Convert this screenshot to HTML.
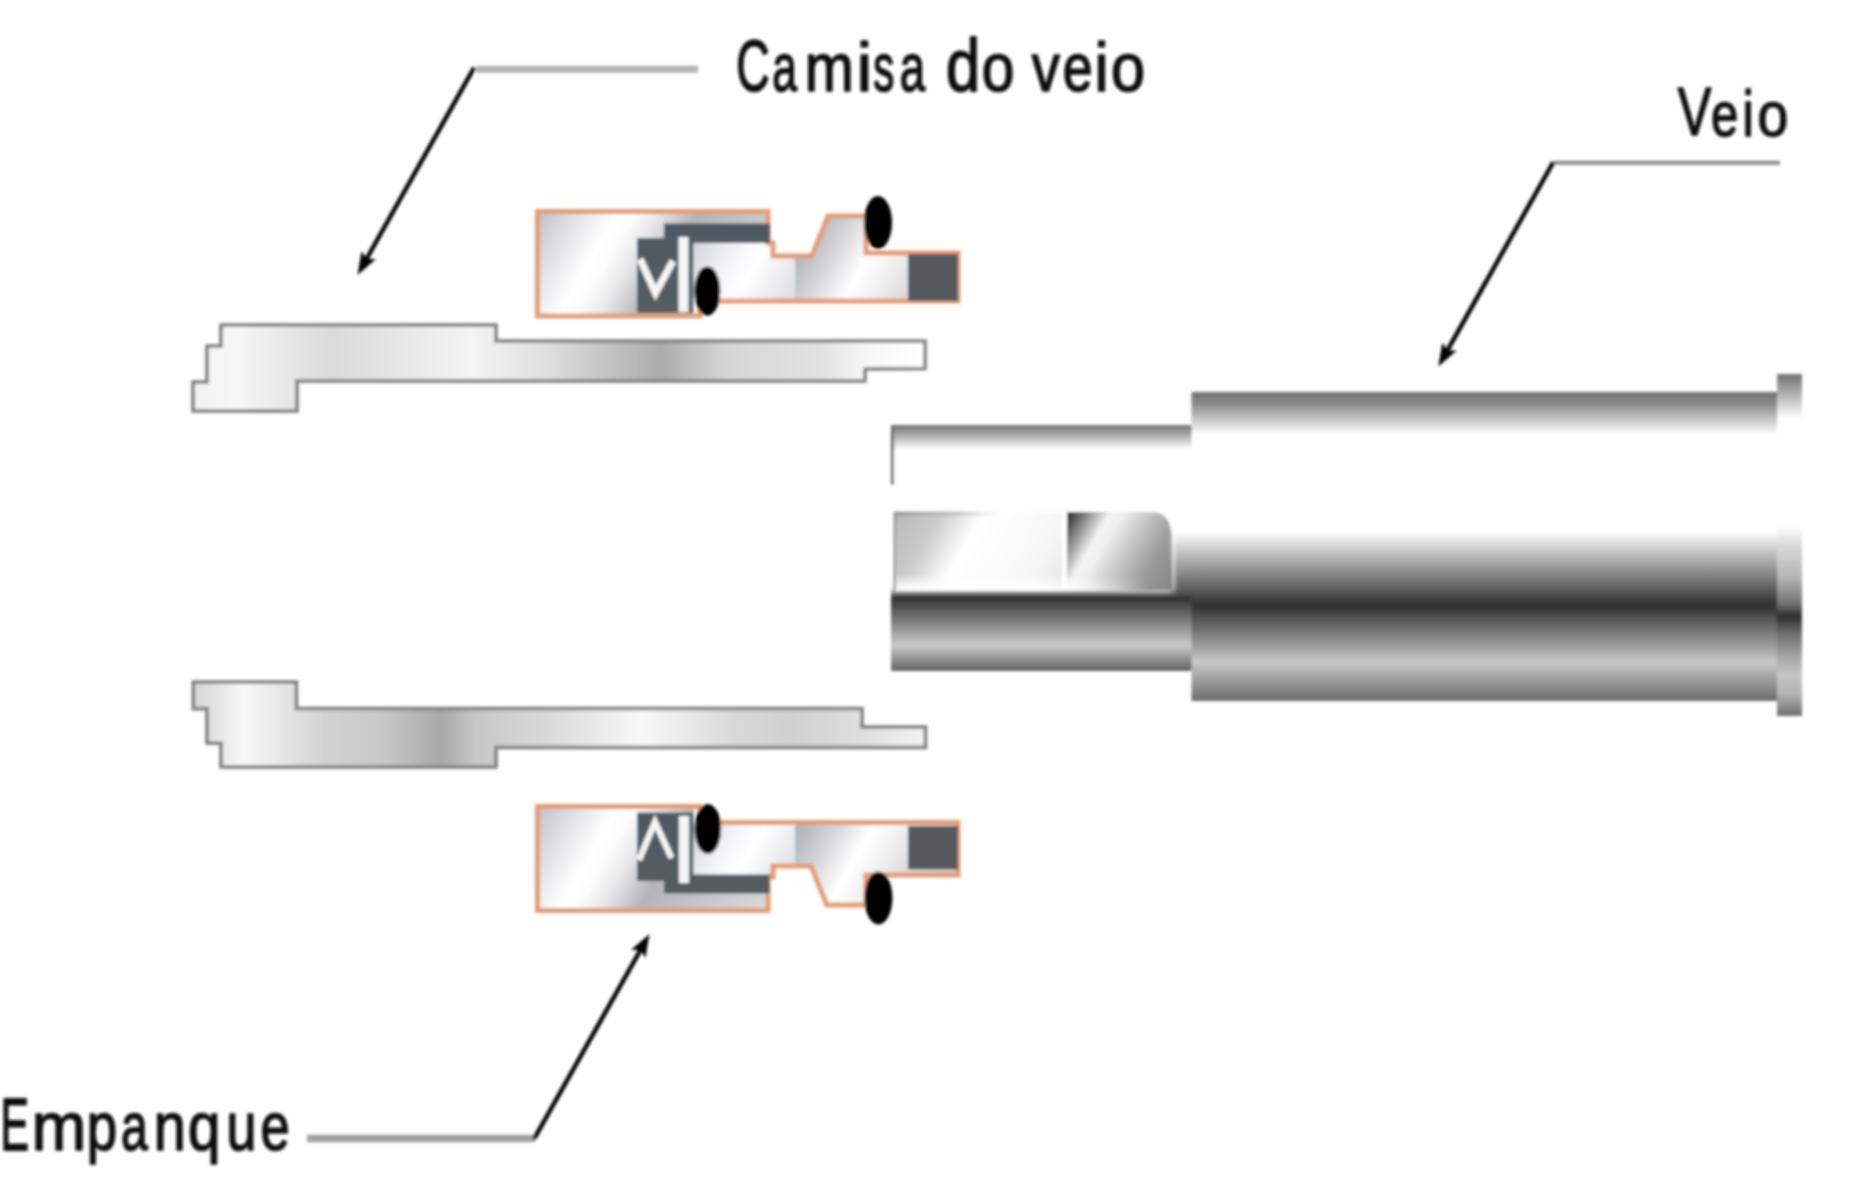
<!DOCTYPE html>
<html><head><meta charset="utf-8">
<style>
html,body{margin:0;padding:0;background:#fff;}
body{width:1855px;height:1200px;overflow:hidden;}
svg{display:block;}
text{font-family:"Liberation Sans",sans-serif;fill:#111;}
</style></head><body>
<svg width="1855" height="1200" viewBox="0 0 1855 1200">
<defs>
<filter id="bl" x="-5%" y="-5%" width="110%" height="110%"><feGaussianBlur stdDeviation="1.8"/></filter>
<linearGradient id="slvT" x1="193" y1="0" x2="924" y2="0" gradientUnits="userSpaceOnUse">
 <stop offset="0" stop-color="#f2f2f2"/><stop offset="0.06" stop-color="#f6f6f6"/><stop offset="0.19" stop-color="#dadada"/><stop offset="0.38" stop-color="#f4f4f4"/>
 <stop offset="0.48" stop-color="#e0e0e0"/><stop offset="0.64" stop-color="#ababab"/><stop offset="0.73" stop-color="#d6d6d6"/>
 <stop offset="0.86" stop-color="#e2e2e2"/><stop offset="0.92" stop-color="#f6f6f6"/><stop offset="1" stop-color="#ffffff"/>
</linearGradient>
<linearGradient id="slvB" x1="193" y1="0" x2="924" y2="0" gradientUnits="userSpaceOnUse">
 <stop offset="0.01" stop-color="#d8d8d8"/><stop offset="0.07" stop-color="#f8f8f8"/><stop offset="0.18" stop-color="#d2d2d2"/>
 <stop offset="0.26" stop-color="#c8c8c8"/><stop offset="0.34" stop-color="#a8a8a8"/><stop offset="0.385" stop-color="#c6c6c6"/>
 <stop offset="0.49" stop-color="#dadada"/><stop offset="0.615" stop-color="#f8f8f8"/><stop offset="0.74" stop-color="#d8d8d8"/>
 <stop offset="0.82" stop-color="#d0d0d0"/><stop offset="0.935" stop-color="#e2e2e2"/><stop offset="0.99" stop-color="#f0f0f0"/>
</linearGradient>
<linearGradient id="sLT" x1="537" y1="211" x2="762.2" y2="341.0" gradientUnits="userSpaceOnUse"><stop offset="0.000" stop-color="#bcbcc4"/><stop offset="0.115" stop-color="#dcdce0"/><stop offset="0.269" stop-color="#ffffff"/><stop offset="0.331" stop-color="#fcfcfc"/><stop offset="0.415" stop-color="#e6e6e8"/><stop offset="0.538" stop-color="#b4b4b8"/><stop offset="1.000" stop-color="#dcdcdc"/></linearGradient>
<linearGradient id="sRT" x1="694" y1="243" x2="867.2" y2="343.0" gradientUnits="userSpaceOnUse"><stop offset="0.000" stop-color="#d4d4dc"/><stop offset="0.230" stop-color="#f8f8fc"/><stop offset="0.320" stop-color="#ffffff"/><stop offset="0.500" stop-color="#e6e6ea"/><stop offset="0.650" stop-color="#d8d8dc"/><stop offset="1.000" stop-color="#d0d0d0"/></linearGradient>
<linearGradient id="sR2T" x1="795" y1="243" x2="968.2" y2="343.0" gradientUnits="userSpaceOnUse"><stop offset="0.000" stop-color="#a8b0b4"/><stop offset="0.075" stop-color="#b8bcc0"/><stop offset="0.200" stop-color="#d8d8dc"/><stop offset="0.350" stop-color="#ffffff"/><stop offset="0.475" stop-color="#f0f0f0"/><stop offset="0.600" stop-color="#dcdcdc"/><stop offset="0.750" stop-color="#d0d0d0"/><stop offset="1.000" stop-color="#cccccc"/></linearGradient>
<linearGradient id="sLB" x1="537" y1="806" x2="762.2" y2="936.0" gradientUnits="userSpaceOnUse"><stop offset="0.000" stop-color="#bcbcc4"/><stop offset="0.115" stop-color="#dcdce0"/><stop offset="0.269" stop-color="#ffffff"/><stop offset="0.331" stop-color="#fcfcfc"/><stop offset="0.415" stop-color="#e6e6e8"/><stop offset="0.538" stop-color="#b4b4b8"/><stop offset="1.000" stop-color="#dcdcdc"/></linearGradient>
<linearGradient id="sRB" x1="694" y1="822" x2="867.2" y2="922.0" gradientUnits="userSpaceOnUse"><stop offset="0.000" stop-color="#d4d4dc"/><stop offset="0.230" stop-color="#f8f8fc"/><stop offset="0.320" stop-color="#ffffff"/><stop offset="0.500" stop-color="#e6e6ea"/><stop offset="0.650" stop-color="#d8d8dc"/><stop offset="1.000" stop-color="#d0d0d0"/></linearGradient>
<linearGradient id="sR2B" x1="795" y1="822" x2="968.2" y2="922.0" gradientUnits="userSpaceOnUse"><stop offset="0.000" stop-color="#a8b0b4"/><stop offset="0.075" stop-color="#b8bcc0"/><stop offset="0.200" stop-color="#d8d8dc"/><stop offset="0.350" stop-color="#ffffff"/><stop offset="0.475" stop-color="#f0f0f0"/><stop offset="0.600" stop-color="#dcdcdc"/><stop offset="0.750" stop-color="#d0d0d0"/><stop offset="1.000" stop-color="#cccccc"/></linearGradient>
<linearGradient id="fadeH" x1="1168" y1="0" x2="1178" y2="0" gradientUnits="userSpaceOnUse"><stop offset="0" stop-color="#fff" stop-opacity="0"/><stop offset="1" stop-color="#fff" stop-opacity="1"/></linearGradient>
<mask id="mfade" maskUnits="userSpaceOnUse" x="1160" y="500" width="40" height="110"><rect x="1160" y="500" width="40" height="110" fill="url(#fadeH)"/></mask>
<linearGradient id="kfade" x1="0" y1="574" x2="0" y2="591" gradientUnits="userSpaceOnUse"><stop offset="0" stop-color="#fff" stop-opacity="0"/><stop offset="0.75" stop-color="#fff" stop-opacity="0.85"/><stop offset="1" stop-color="#fff" stop-opacity="0.9"/></linearGradient>
<linearGradient id="ktop" x1="895" y1="0" x2="1005" y2="0" gradientUnits="userSpaceOnUse"><stop offset="0" stop-color="#888" stop-opacity="0.5"/><stop offset="0.6" stop-color="#999" stop-opacity="0.3"/><stop offset="1" stop-color="#aaa" stop-opacity="0"/></linearGradient>
<linearGradient id="kfh" x1="893" y1="0" x2="1150" y2="0" gradientUnits="userSpaceOnUse"><stop offset="0" stop-color="#fff"/><stop offset="0.6" stop-color="#fff"/><stop offset="1" stop-color="#000"/></linearGradient>
<mask id="mk2" maskUnits="userSpaceOnUse" x="890" y="570" width="270" height="25"><rect x="890" y="570" width="270" height="25" fill="url(#kfh)"/></mask>
<linearGradient id="dk" x1="0" y1="0" x2="0" y2="1"><stop offset="0" stop-color="#4d5963"/><stop offset="1" stop-color="#565b5f"/></linearGradient>
<linearGradient id="shBig" x1="0" y1="392" x2="0" y2="701" gradientUnits="userSpaceOnUse">
 <stop offset="0" stop-color="#707070"/><stop offset="0.04" stop-color="#8c8c8c"/><stop offset="0.138" stop-color="#ffffff"/><stop offset="0.45" stop-color="#ffffff"/>
 <stop offset="0.69" stop-color="#303030"/><stop offset="0.875" stop-color="#c8c8c8"/><stop offset="1" stop-color="#6a6a6a"/>
</linearGradient>
<linearGradient id="shSm" x1="0" y1="425" x2="0" y2="671" gradientUnits="userSpaceOnUse">
 <stop offset="0" stop-color="#707070"/><stop offset="0.10" stop-color="#ffffff"/><stop offset="0.66" stop-color="#ffffff"/>
 <stop offset="0.70" stop-color="#303030"/><stop offset="0.895" stop-color="#cacaca"/><stop offset="1" stop-color="#606060"/>
</linearGradient>
<linearGradient id="flg" x1="0" y1="374" x2="0" y2="716" gradientUnits="userSpaceOnUse">
 <stop offset="0" stop-color="#707070"/><stop offset="0.13" stop-color="#ffffff"/><stop offset="0.443" stop-color="#ffffff"/>
 <stop offset="0.5" stop-color="#dadada"/><stop offset="0.594" stop-color="#b4b4b4"/><stop offset="0.67" stop-color="#747474"/>
 <stop offset="0.708" stop-color="#2e2e2e"/><stop offset="0.756" stop-color="#6a6a6a"/><stop offset="0.822" stop-color="#a2a2a2"/>
 <stop offset="0.88" stop-color="#c6c6c6"/><stop offset="0.936" stop-color="#b2b2b2"/><stop offset="1" stop-color="#6e6e6e"/>
</linearGradient>
<linearGradient id="key1" x1="895" y1="512" x2="1054.3" y2="604.0" gradientUnits="userSpaceOnUse"><stop offset="0.000" stop-color="#a6a6a6"/><stop offset="0.043" stop-color="#bcbcbc"/><stop offset="0.217" stop-color="#cacaca"/><stop offset="0.424" stop-color="#ffffff"/><stop offset="0.815" stop-color="#f6f6f6"/><stop offset="1.000" stop-color="#e6e6e6"/></linearGradient>
<linearGradient id="key2" x1="1067" y1="512" x2="1177.8" y2="576.0" gradientUnits="userSpaceOnUse"><stop offset="0.000" stop-color="#1c1c1c"/><stop offset="0.109" stop-color="#707070"/><stop offset="0.297" stop-color="#f4f4f4"/><stop offset="0.375" stop-color="#f0f0f0"/><stop offset="0.562" stop-color="#c6c6c6"/><stop offset="0.781" stop-color="#9a9a9a"/><stop offset="1.000" stop-color="#868686"/></linearGradient>
<marker id="ah" viewBox="0 0 10 10" refX="9" refY="5" markerWidth="7" markerHeight="7" orient="auto-start-reverse"><path d="M0,0 L10,5 L0,10 L2.5,5 z" fill="#000"/></marker>
</defs>
<rect width="1855" height="1200" fill="#fff"/>
<g filter="url(#bl)">
<!-- sleeves -->
<polygon points="221.0,325.0 496.0,325.0 496.0,341.0 925.0,341.0 925.0,368.5 865.0,369.0 865.0,381.0 297.0,381.0 297.0,411.0 193.0,411.0 193.0,382.0 207.0,382.0 207.0,346.0 221.0,346.0" fill="url(#slvT)" stroke="#7e7e7e" stroke-width="3.6"/>
<polygon points="193.4,682.0 296.4,682.0 296.4,708.5 862.0,708.5 862.0,727.0 925.5,727.0 925.5,747.5 496.0,747.5 496.0,767.0 221.0,767.0 221.0,743.3 207.0,743.3 207.0,708.8 193.4,708.8" fill="url(#slvB)" stroke="#7e7e7e" stroke-width="3.6"/>
<!-- shaft -->
<rect x="891" y="425" width="301" height="246" fill="url(#shSm)"/>
<rect x="891" y="425" width="3" height="60" fill="#666"/>
<rect x="1191.5" y="392" width="586" height="309" fill="url(#shBig)"/>
<rect x="1777" y="374" width="25" height="342" fill="url(#flg)"/>
<path d="M895,512 H1062 V590 H895 Z" fill="url(#key1)"/>
<path d="M1067,512 H1152 Q1170,512 1172,535 V590 H1067 Z" fill="url(#key2)"/>
<rect x="893" y="574" width="260" height="17" fill="url(#kfade)" mask="url(#mk2)"/>
<rect x="895" y="511" width="110" height="5" fill="url(#ktop)"/>
<rect x="893" y="511" width="3" height="80" fill="#8a8a8a" opacity="0.7"/>
<rect x="1166" y="512" width="26" height="84" fill="url(#shBig)" mask="url(#mfade)"/>
<!-- seals -->
<polygon points="537.5,211.5 768.0,211.5 768.0,243.0 694.0,243.0 694.0,316.0 537.5,316.0" fill="url(#sLT)"/>
<polygon points="694.0,243.0 773.0,243.0 773.0,256.0 795.0,256.0 795.0,301.0 694.0,301.0" fill="url(#sRT)"/>
<polygon points="795.0,256.0 812.0,256.0 828.0,216.0 866.0,216.0 866.0,253.0 958.0,253.0 958.0,301.0 795.0,301.0" fill="url(#sR2T)"/>
<polygon points="537.5,211.5 768.0,211.5 768.0,243.0 773.0,243.0 773.0,256.0 812.0,256.0 828.0,216.0 866.0,216.0 866.0,253.0 958.0,253.0 958.0,301.0 700.0,301.0 700.0,316.0 537.5,316.0" fill="none" stroke="#e39c74" stroke-width="5" stroke-linejoin="miter"/>
<polygon points="637.0,238.0 664.0,238.0 664.0,223.5 770.0,223.5 770.0,243.0 693.0,243.0 693.0,313.0 637.0,313.0" fill="url(#dk)"/>
<polygon points="908.0,254.0 958.0,254.0 958.0,301.0 908.0,301.0" fill="#54595d"/>
<polyline points="640.0,259.0 655.5,293.0 673.0,261.0" fill="none" stroke="#f6f6f6" stroke-width="7" stroke-linejoin="miter"/>
<polyline points="683.5,237.0 683.5,312.0" fill="none" stroke="#f6f6f6" stroke-width="10"/>
<ellipse cx="707.3" cy="291" rx="13" ry="24.5" fill="#000"/>
<ellipse cx="878" cy="222.5" rx="14" ry="26.5" fill="#000"/>

<polygon points="537.5,806.5 694.0,806.5 694.0,877.0 768.0,877.0 768.0,910.5 537.5,910.5" fill="url(#sLB)"/>
<polygon points="694.0,822.5 795.0,822.5 795.0,866.0 773.0,866.0 773.0,877.0 694.0,877.0" fill="url(#sRB)"/>
<polygon points="795.0,822.5 958.0,822.5 958.0,875.0 866.0,875.0 866.0,905.0 827.0,905.0 811.0,866.0 795.0,866.0" fill="url(#sR2B)"/>
<polygon points="537.5,806.5 700.0,806.5 700.0,822.5 958.0,822.5 958.0,875.0 866.0,875.0 866.0,905.0 827.0,905.0 811.0,866.0 773.0,866.0 773.0,877.0 768.0,877.0 768.0,910.5 537.5,910.5" fill="none" stroke="#e39c74" stroke-width="5" stroke-linejoin="miter"/>
<polygon points="637.0,812.5 693.0,812.5 693.0,874.5 769.5,874.5 769.5,893.5 664.0,893.5 664.0,881.0 637.0,881.0" fill="url(#dk)"/>
<polygon points="908.0,826.0 958.0,826.0 958.0,869.5 908.0,869.5" fill="#54595d"/>
<polyline points="639.0,860.0 655.0,822.0 671.5,858.0" fill="none" stroke="#f6f6f6" stroke-width="6" stroke-linejoin="miter"/>
<polyline points="684.0,816.0 684.0,883.0" fill="none" stroke="#f6f6f6" stroke-width="10"/>
<ellipse cx="707.8" cy="829" rx="13.3" ry="25" fill="#000"/>
<ellipse cx="878.4" cy="898" rx="14" ry="26.5" fill="#000"/>

<!-- leaders -->
<line x1="476" y1="69.3" x2="698" y2="69.3" stroke="#b2b2b2" stroke-width="7"/>
<line x1="474.2" y1="67.5" x2="366.5" y2="259.0" stroke="#000" stroke-width="4.5" stroke-linecap="butt"/><polygon points="357.5,275.0 361.6,250.9 366.5,259.0 376.0,259.0" fill="#000"/>

<line x1="1554" y1="162.8" x2="1780" y2="162.8" stroke="#8a8a8a" stroke-width="4"/>
<line x1="1553.4" y1="162" x2="1447.3" y2="350.5" stroke="#000" stroke-width="4.5" stroke-linecap="butt"/><polygon points="1438.3,366.5 1442.4,342.4 1447.3,350.5 1456.8,350.5" fill="#000"/>

<line x1="307" y1="1138.5" x2="535" y2="1138.5" stroke="#a0a0a0" stroke-width="7.5"/>
<line x1="534" y1="1139" x2="640.5" y2="950.0" stroke="#000" stroke-width="4.5" stroke-linecap="butt"/><polygon points="649.5,934.0 645.4,958.1 640.5,950.0 631.0,950.0" fill="#000"/>

<!-- labels -->
<g stroke="#0a0a0a" stroke-width="1.7" stroke-linejoin="round" fill="#0a0a0a">
<text transform="translate(736.31,90.63) scale(0.6604,1.0289)" font-size="70">C</text><text transform="translate(772.35,90.68) scale(0.6347,0.9694)" font-size="70">a</text><text transform="translate(804.80,90.68) scale(0.8414,0.9694)" font-size="70">m</text><text transform="translate(856.64,90.66) scale(0.9806,0.9919)" font-size="70">i</text><text transform="translate(873.34,90.68) scale(0.6021,0.9694)" font-size="70">s</text><text transform="translate(899.71,90.68) scale(0.6533,0.9694)" font-size="70">a</text><text transform="translate(945.97,90.59) scale(0.8770,1.0682)" font-size="70">d</text><text transform="translate(981.65,90.68) scale(0.8374,0.9694)" font-size="70">o</text><text transform="translate(1031.79,90.68) scale(0.8034,0.9694)" font-size="70">v</text><text transform="translate(1062.67,90.68) scale(0.7671,0.9694)" font-size="70">e</text><text transform="translate(1094.43,90.66) scale(0.9042,0.9919)" font-size="70">i</text><text transform="translate(1110.97,90.68) scale(0.8748,0.9694)" font-size="70">o</text>
<text transform="translate(1677.79,135.47) scale(0.7201,0.9727)" font-size="70">V</text><text transform="translate(1711.11,135.54) scale(0.7005,0.8996)" font-size="70">e</text><text transform="translate(1742.52,135.51) scale(0.7259,0.9252)" font-size="70">i</text><text transform="translate(1757.45,135.54) scale(0.7884,0.8996)" font-size="70">o</text>
<text transform="translate(0.47,1150.10) scale(0.6092,1.0530)" font-size="70">E</text><text transform="translate(31.85,1150.17) scale(0.9340,0.9720)" font-size="70">m</text><text transform="translate(86.84,1150.17) scale(0.7806,0.9720)" font-size="70">p</text><text transform="translate(121.04,1150.17) scale(0.6878,0.9720)" font-size="70">a</text><text transform="translate(153.87,1150.17) scale(0.8239,0.9720)" font-size="70">n</text><text transform="translate(188.06,1150.17) scale(0.8310,0.9720)" font-size="70">q</text><text transform="translate(226.55,1150.17) scale(0.7698,0.9720)" font-size="70">u</text><text transform="translate(260.61,1150.17) scale(0.7497,0.9720)" font-size="70">e</text>
</g>
</g>
</svg>
</body></html>
